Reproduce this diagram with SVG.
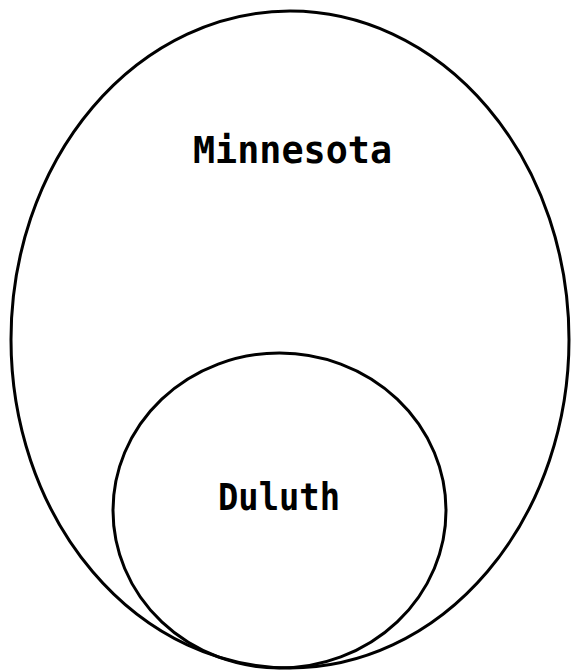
<svg xmlns="http://www.w3.org/2000/svg" width="574" height="672" viewBox="0 0 574 672">
<style>
.shape{fill:none;stroke:#000;stroke-width:3}
.lbl{font-family:"DejaVu Sans Mono","Liberation Mono",monospace;font-weight:bold;font-size:37px;fill:#000;text-anchor:middle}
</style>
<rect width="574" height="672" fill="#fff"/>
<g id="minnesota">
<ellipse class="shape" cx="290" cy="339.5" rx="279" ry="328.5"/>
<text class="lbl" x="292.5" y="163" textLength="199" lengthAdjust="spacingAndGlyphs">Minnesota</text>
</g>
<g id="duluth">
<ellipse class="shape" cx="279.5" cy="510.5" rx="166.5" ry="157.5"/>
<text class="lbl" x="279" y="510" textLength="122" lengthAdjust="spacingAndGlyphs">Duluth</text>
</g>
<g id="connectors"></g>
</svg>
